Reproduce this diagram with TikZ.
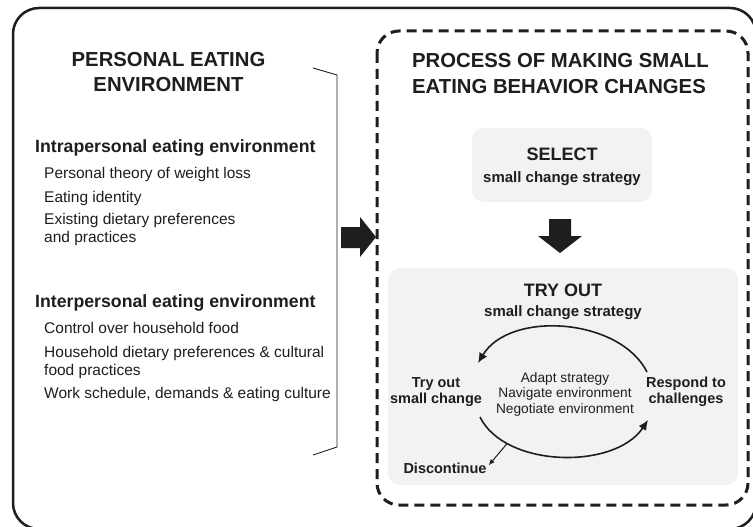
\documentclass[tikz,border=0pt]{standalone}
\usepackage{fontspec}
\setmainfont{Liberation Sans}
\usetikzlibrary{arrows.meta}

\definecolor{ink}{HTML}{1E1E1E}
\definecolor{panel}{HTML}{F2F2F2}

\begin{document}
\begin{tikzpicture}[x=1pt,y=-1pt,
  every node/.style={text=ink,inner sep=0pt},
  bigtitle/.style={font=\fontsize{20.3}{25.5}\selectfont\bfseries},
  heading/.style={font=\fontsize{17.7}{21}\selectfont\bfseries,anchor=base west},
  item/.style={font=\fontsize{15.5}{17.5}\selectfont,anchor=base west,align=left},
  boxtitle/.style={font=\fontsize{18}{20}\selectfont\bfseries,anchor=base},
  boxsub/.style={font=\fontsize{15}{17}\selectfont\bfseries,anchor=base},
  steplabel/.style={font=\fontsize{14.5}{16}\selectfont\bfseries,align=center,anchor=base},
  cyclenote/.style={font=\fontsize{13.7}{15.5}\selectfont,align=center,anchor=base},
  cyclearrow/.style={draw=ink,line width=1.6pt,-{Latex[length=10pt,width=9pt]}},
  panelbox/.style={fill=panel,rounded corners=12pt,inner sep=0pt},
]
\clip (0,0) rectangle (753,527);
\fill[white] (0,0) rectangle (753,527);

% frames
\draw[ink,line width=2.5pt,rounded corners=26pt] (13,8) rectangle (756,529);
\draw[ink,line width=3pt,dash pattern=on 10pt off 6pt,rounded corners=22pt] (377,31) rectangle (748,505);

% left column (base anchor sits on the last line)
\node[bigtitle,align=center,anchor=base] (envtitle) at (168.5,92) {PERSONAL EATING\\ENVIRONMENT};
\node[heading] (intra) at (35,153) {Intrapersonal eating environment};
\node[item] (theory) at (44,178) {Personal theory of weight loss};
\node[item] (identity) at (44,202) {Eating identity};
\node[item] (existing) at (44,242) {Existing dietary preferences\\and practices};
\node[heading] (inter) at (35,307) {Interpersonal eating environment};
\node[item] (control) at (44,333) {Control over household food};
\node[item] (household) at (44,375) {Household dietary preferences \& cultural\\food practices};
\node[item] (work) at (44,398) {Work schedule, demands \& eating culture};

% bracket
\draw[ink,line width=0.9pt] (313,68) -- (337,75) -- (337,447) -- (313,455);

% push arrow into the process
\fill[ink] (341,227) -- (360,227) -- (360,217) -- (376,237) -- (360,257) -- (360,248) -- (341,248) -- cycle;

% right column
\node[bigtitle,align=left,anchor=base west] (proctitle) at (412,93) {PROCESS OF MAKING SMALL\\EATING BEHAVIOR CHANGES};

\node[panelbox,minimum width=180pt,minimum height=74pt] (select) at (562,165) {};
\node[boxtitle] (selecthead) at (562,160) {SELECT};
\node[boxsub] (selectsub) at (562,182) {small change strategy};

\fill[ink] (549,219) -- (571,219) -- (571,236) -- (582,236) -- (560,253) -- (538,236) -- (549,236) -- cycle;

\node[panelbox,minimum width=350pt,minimum height=217pt] (tryout) at (563,376.5) {};
\node[boxtitle] (tryhead) at (563,296) {TRY OUT};
\node[boxsub] (trysub) at (563,316) {small change strategy};

% the try-out cycle
\node[steplabel] (trystep) at (436,403) {Try out\\small change};
\node[steplabel] (respond) at (686,403) {Respond to\\challenges};
\node[cyclenote] (tactics) at (565,413) {Adapt strategy\\Navigate environment\\Negotiate environment};
\node[font=\fontsize{14.5}{16}\selectfont\bfseries,anchor=base] (discont) at (445,473) {Discontinue};

\coordinate (backstart) at (647,372);
\coordinate (backend) at (478,363);
\coordinate (fwdstart) at (480,417);
\coordinate (fwdend) at (648,420);

\draw[cyclearrow] (backstart) .. controls (620,318) and (510,310) .. (backend);
\draw[cyclearrow] (fwdstart) .. controls (505,468) and (615,470) .. coordinate[pos=0.22] (quit) (fwdend);
\draw[ink,line width=1pt,-{Latex[length=6pt,width=5pt]}] (quit) -- ([xshift=2pt,yshift=-3pt]discont.north east);
\end{tikzpicture}
\end{document}
